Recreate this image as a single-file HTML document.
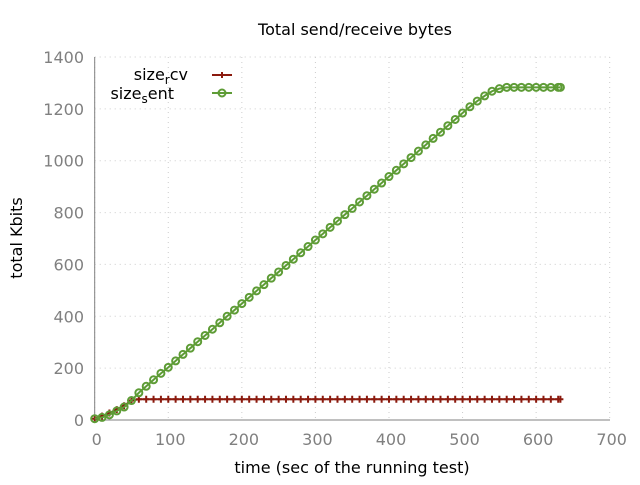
<!DOCTYPE html>
<html><head><meta charset="utf-8"><style>
body{margin:0;background:#fff}
svg text{font-family:"DejaVu Sans","Liberation Sans",sans-serif}
</style></head><body>
<svg id="chart" width="640" height="480" xmlns="http://www.w3.org/2000/svg">
<text x="355" y="35" text-anchor="middle" font-size="16">Total send/receive bytes</text>
<text x="352" y="473" text-anchor="middle" font-size="16">time (sec of the running test)</text>
<text transform="translate(22,238) rotate(-90)" text-anchor="middle" font-size="16">total Kbits</text>
<g id="grid"></g><g id="axes"></g><g id="series"></g>
<g>
<text x="188" y="80" text-anchor="end" font-size="16">size<tspan font-size="12" dy="4">r</tspan><tspan dy="-4">cv</tspan></text>
<line x1="212" y1="75" x2="232" y2="75" stroke="#8b1a0e" stroke-width="2"/>
<path d="M222,72V78M219,75H225" stroke="#8b1a0e" stroke-width="2"/>
<text x="174" y="99" text-anchor="end" font-size="16">size<tspan font-size="12" dy="4">s</tspan><tspan dy="-4">ent</tspan></text>
<line x1="212" y1="93" x2="232" y2="93" stroke="#5e9c36" stroke-width="2"/>
<circle cx="222" cy="93" r="3.5" fill="none" stroke="#5e9c36" stroke-width="2"/>
</g>
</svg>
<script>
const xTicks=[0,100,200,300,400,500,600,700];
const yTicks=[0,200,400,600,800,1000,1200,1400];
const times=[0,10,20,30,40,50,60,70,80,90,100,110,120,130,140,150,160,170,180,190,200,210,220,230,240,250,260,270,280,290,300,310,320,330,340,350,360,370,380,390,400,410,420,430,440,450,460,470,480,490,500,510,520,530,540,550,560,570,580,590,600,610,620,630,633];
const recv=[5,15,27,40,55,75,80,80,80,80,80,80,80,80,80,80,80,80,80,80,80,80,80,80,80,80,80,80,80,80,80,80,80,80,80,80,80,80,80,80,80,80,80,80,80,80,80,80,80,80,80,80,80,80,80,80,80,80,80,80,80,80,80,80,80];
const sent=[5,10,20,35,50,75,105,130,155,180,203,228,253,277,302,326,350,375,400,424,449,473,498,522,547,571,596,620,645,669,694,718,743,767,792,816,841,865,890,914,939,963,988,1012,1037,1061,1086,1110,1135,1159,1184,1208,1230,1250,1268,1278,1283,1283,1283,1283,1283,1283,1283,1283,1283];
const X=v=>94.7+v*515/700, Y=v=>420-v*363/1400;
const NS="http://www.w3.org/2000/svg";
function mk(t,a,p){const e=document.createElementNS(NS,t);for(const k in a)e.setAttribute(k,a[k]);p.appendChild(e);return e;}
const grid=document.getElementById('grid'),axes=document.getElementById('axes'),ser=document.getElementById('series');
xTicks.forEach(t=>{const g=mk('line',{x1:X(t),x2:X(t),y1:57,y2:420,stroke:'#ccc','stroke-dasharray':'1,4'},grid);


const l=mk('text',{x:X(t)+2,y:445,'text-anchor':'middle','font-size':16,fill:'#808080'},axes);l.textContent=t;

});
yTicks.forEach(t=>{const g=mk('line',{x1:94.7,x2:610,y1:Y(t),y2:Y(t),stroke:'#ccc','stroke-dasharray':'1,4'},grid);


const l=mk('text',{x:84,y:Y(t)+6,'text-anchor':'end','font-size':16,fill:'#808080'},axes);l.textContent=t;

});
const ax=mk('path',{d:`M94.7,57V420H610`,fill:'none',stroke:'#808080','stroke-width':1},axes);


function line(vals,color,name){const p=mk('polyline',{points:times.map((t,i)=>X(t)+','+Y(vals[i])).join(' '),fill:'none',stroke:color,'stroke-width':2},ser);

}
line(recv,'#8b1a0e','recv');
times.forEach((t,i)=>{const x=X(t),y=Y(recv[i]);const m=mk('path',{d:`M${x},${y-3.5}V${y+3.5}M${x-3},${y}H${x+3}`,stroke:'#8b1a0e','stroke-width':2},ser);

});
line(sent,'#5e9c36','sent');
times.forEach((t,i)=>{const c=mk('circle',{cx:X(t),cy:Y(sent[i]),r:3.5,fill:'none',stroke:'#5e9c36','stroke-width':2},ser);

});
</script>
</body></html>
